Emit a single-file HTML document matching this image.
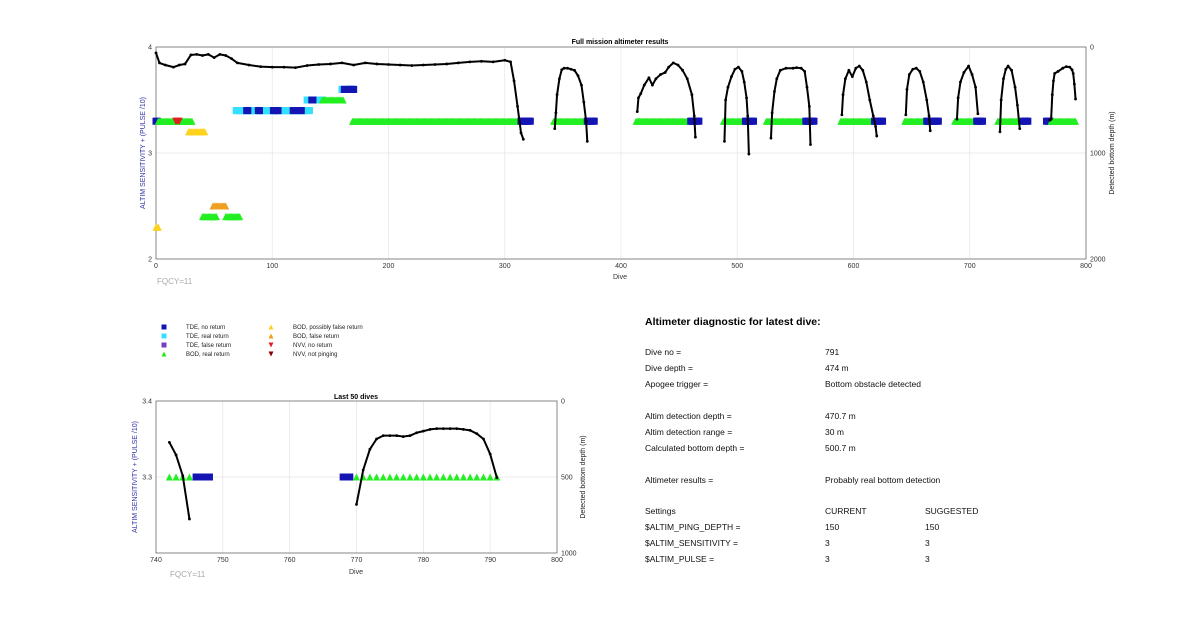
<!DOCTYPE html>
<html><head><meta charset="utf-8"><style>
body{margin:0;background:#fff;}
svg{display:block;font-family:"Liberation Sans",Arial,sans-serif;}
.tk{font-size:7px;fill:#333;}
.row{font-size:8.5px;fill:#111;}
.lg{font-size:6px;fill:#222;}
</style></head><body>
<svg id="s" width="1200" height="622" viewBox="0 0 1200 622" xmlns="http://www.w3.org/2000/svg">
<rect width="1200" height="622" fill="#fff"/>
<g id="top">
<text x="620" y="44" text-anchor="middle" font-size="7" font-weight="bold">Full mission altimeter results</text>
<text transform="translate(145,153) rotate(-90)" text-anchor="middle" font-size="7" fill="#3333aa">ALTIM SENSITIVITY + (PULSE /10)</text>
<text transform="translate(1114,153) rotate(-90)" text-anchor="middle" font-size="7" fill="#222">Detected bottom depth (m)</text>
<text x="620" y="279" text-anchor="middle" font-size="7" fill="#333">Dive</text>
<text x="157" y="284" font-size="8" fill="#aaa">FQCY=11</text>
</g>
<g id="bot">
<text x="356" y="399" text-anchor="middle" font-size="7" font-weight="bold">Last 50 dives</text>
<text transform="translate(137,477) rotate(-90)" text-anchor="middle" font-size="7" fill="#3333aa">ALTIM SENSITIVITY + (PULSE /10)</text>
<text transform="translate(585,477) rotate(-90)" text-anchor="middle" font-size="7" fill="#222">Detected bottom depth (m)</text>
<text x="356" y="574" text-anchor="middle" font-size="7" fill="#333">Dive</text>
<text x="170" y="577" font-size="8" fill="#aaa">FQCY=11</text>
</g>
<g id="legend"></g>
<g>
<text x="645" y="325" font-size="10.5" font-weight="bold">Altimeter diagnostic for latest dive:</text>
<g class="row">
<text x="645" y="355">Dive no =</text><text x="825" y="355">791</text>
<text x="645" y="371">Dive depth =</text><text x="825" y="371">474 m</text>
<text x="645" y="387">Apogee trigger =</text><text x="825" y="387">Bottom obstacle detected</text>
<text x="645" y="419">Altim detection depth =</text><text x="825" y="419">470.7 m</text>
<text x="645" y="435">Altim detection range =</text><text x="825" y="435">30 m</text>
<text x="645" y="451">Calculated bottom depth =</text><text x="825" y="451">500.7 m</text>
<text x="645" y="483">Altimeter results =</text><text x="825" y="483">Probably real bottom detection</text>
<text x="645" y="514">Settings</text><text x="825" y="514">CURRENT</text><text x="925" y="514">SUGGESTED</text>
<text x="645" y="530">$ALTIM_PING_DEPTH =</text><text x="825" y="530">150</text><text x="925" y="530">150</text>
<text x="645" y="546">$ALTIM_SENSITIVITY =</text><text x="825" y="546">3</text><text x="925" y="546">3</text>
<text x="645" y="562">$ALTIM_PULSE =</text><text x="825" y="562">3</text><text x="925" y="562">3</text>
</g></g>
</svg>
<script>
const NS="http://www.w3.org/2000/svg";
const COLORS={tdeNo:"#1414b4",tdeReal:"#33e0ff",tdeFalse:"#7a3fc0",bodReal:"#22ee22",bodPoss:"#ffd21f",bodFalse:"#f0a020",nvvNo:"#e02020",nvvNot:"#8b0000"};
const SHAPE={tdeNo:"sq",tdeReal:"sq",tdeFalse:"sq",bodReal:"tri",bodPoss:"tri",bodFalse:"tri",nvvNo:"inv",nvvNot:"inv"};
// top chart data
const topXTicks=[0,100,200,300,400,500,600,700,800];
const topYTicks=[2,3,4];
const topRTicks=[0,1000,2000];
const segStart=[0,2,17,28,69,78,88,101,104,118,124,130,134,143,160,162,167,169,314,49,40,60,0,342,371,413,460,488,507,525,559,589,618,644,663,687,706,724,746,766,770];
const segEnd=[1,31,20,42,132,79,89,102,105,119,125,143,135,161,170,163,170,313,322,60,52,72,2,370,377,459,467,506,514,558,566,617,625,662,673,705,711,745,750,769,791];
const segLevel=[3.3,3.3,3.3,3.2,3.4,3.4,3.4,3.4,3.4,3.4,3.4,3.5,3.5,3.5,3.6,3.6,3.6,3.3,3.3,2.5,2.4,2.4,2.3,3.3,3.3,3.3,3.3,3.3,3.3,3.3,3.3,3.3,3.3,3.3,3.3,3.3,3.3,3.3,3.3,3.3,3.3];
const segType=["tdeNo","bodReal","nvvNo","bodPoss","tdeReal","tdeNo","tdeNo","tdeNo","tdeNo","tdeNo","tdeNo","tdeReal","tdeNo","bodReal","tdeReal","tdeNo","tdeNo","bodReal","tdeNo","bodFalse","bodReal","bodReal","bodPoss","bodReal","tdeNo","bodReal","tdeNo","bodReal","tdeNo","bodReal","tdeNo","bodReal","tdeNo","bodReal","tdeNo","bodReal","tdeNo","bodReal","tdeNo","tdeNo","bodReal"];
const topDiveGroups=[
[0,3,8,15,20,25,30,35,40,45,50,55,60,65,70,80,90,100,110,120,130,140,150,160,170,180,190,200,210,220,230,240,250,260,270,280,290,300,305,308,311,314,316],
[343,344,345,347,349,351,354,357,360,363,366,368,370,371],
[414,415,417,420,424,427,430,434,438,441,445,449,453,457,461,463,464],
[489,490,492,495,498,501,504,506,508,509,510],
[529,530,532,534,537,542,548,551,555,558,560,562,563],
[590,591,593,596,599,602,605,608,611,614,617,619,620],
[645,646,648,651,654,657,660,663,665,666],
[689,690,692,695,699,702,705,707],
[726,727,729,731,733,736,739,741,743],
[769,770,771,772,773,776,780,783,786,788,789,790,791]];
const topDepthGroups=[
[56,150,170,190,170,160,75,70,80,70,100,70,80,110,150,170,185,190,190,195,175,165,160,150,170,150,160,165,170,175,170,165,160,150,140,135,140,125,140,320,560,810,870],
[770,620,450,300,215,200,200,210,220,270,360,520,700,890],
[610,480,440,360,290,360,300,260,240,190,150,170,220,300,450,650,850],
[890,500,380,280,210,190,230,330,480,650,1010],
[860,620,420,300,220,200,200,195,200,230,380,560,920],
[640,450,300,220,280,200,180,220,330,500,650,750,840],
[640,400,260,210,200,230,330,500,650,790],
[680,480,330,240,180,260,380,630],
[800,500,300,210,180,220,380,550,770],
[690,680,450,320,250,230,200,185,190,215,250,350,490]];
// bottom chart data
const botXTicks=[740,750,760,770,780,790,800];
const botYTicks=[3.3,3.4];
const botRTicks=[0,500,1000];
const botMarkDive=[742,743,744,745,746,747,748,768,769,770,771,772,773,774,775,776,777,778,779,780,781,782,783,784,785,786,787,788,789,790,791];
const botMarkType=["bodReal","bodReal","bodReal","bodReal","tdeNo","tdeNo","tdeNo","tdeNo","tdeNo","bodReal","bodReal","bodReal","bodReal","bodReal","bodReal","bodReal","bodReal","bodReal","bodReal","bodReal","bodReal","bodReal","bodReal","bodReal","bodReal","bodReal","bodReal","bodReal","bodReal","bodReal","bodReal"];
const botMarkLevel=[3.3,3.3,3.3,3.3,3.3,3.3,3.3,3.3,3.3,3.3,3.3,3.3,3.3,3.3,3.3,3.3,3.3,3.3,3.3,3.3,3.3,3.3,3.3,3.3,3.3,3.3,3.3,3.3,3.3,3.3,3.3];
const botDiveGroups=[[742,743,744,745],[770,771,772,773,774,775,776,777,778,779,780,781,782,783,784,785,786,787,788,789,790,791]];
const botDepthGroups=[[272,355,491,776],[680,454,318,250,228,228,228,234,228,209,198,187,182,182,182,182,187,193,215,250,349,505]];
const legendKeys=["tdeNo","tdeReal","tdeFalse","bodReal","bodPoss","bodFalse","nvvNo","nvvNot"];
const legendLabels=["TDE, no return","TDE, real return","TDE, false return","BOD, real return","BOD, possibly false return","BOD, false return","NVV, no return","NVV, not pinging"];

function mk(tag,attrs,parent){const e=document.createElementNS(NS,tag);for(const k in attrs)e.setAttribute(k,attrs[k]);parent.appendChild(e);return e;}
function marker(parent,type,cx,cy,s){
  const c=COLORS[type],sh=SHAPE[type];let e;
  if(sh==="sq")e=mk("rect",{x:cx-s/2,y:cy-s/2,width:s,height:s,fill:c},parent);
  else if(sh==="tri")e=mk("polygon",{points:`${cx-s/2},${cy+s/2} ${cx+s/2},${cy+s/2} ${cx},${cy-s/2}`,fill:c},parent);
  else e=mk("polygon",{points:`${cx-s/2},${cy-s/2} ${cx+s/2},${cy-s/2} ${cx},${cy+s/2}`,fill:c},parent);
  return e;
}
function axes(g,o){
  const {x0,x1,y0,y1}=o;
  o.xTicks.forEach(t=>{const x=o.sx(t);
    if(t!==o.xTicks[0]&&t!==o.xTicks[o.xTicks.length-1]){const l=mk("line",{x1:x,x2:x,y1:y0,y2:y1,stroke:"#e4e4e4","stroke-width":0.7},g);
    
    }
    const tx=mk("text",{x:x,y:y1+9,"text-anchor":"middle",class:"tk"},g);tx.textContent=t;
    
    });
  o.yTicks.forEach(t=>{const y=o.sy(t);
    if(y>y0+1&&y<y1-1){const l=mk("line",{x1:x0,x2:x1,y1:y,y2:y,stroke:"#e4e4e4","stroke-width":0.7},g);
    
    }
    const tx=mk("text",{x:x0-4,y:y+2.5,"text-anchor":"end",class:"tk"},g);tx.textContent=t;
    
    });
  o.rTicks.forEach(t=>{const y=o.sd(t);
    const tx=mk("text",{x:x1+4,y:y+2.5,class:"tk"},g);tx.textContent=t;
    
    });
  const r=mk("rect",{x:x0,y:y0,width:x1-x0,height:y1-y0,fill:"none",stroke:"#555","stroke-width":0.7},g);
  
  
}
function lines(g,o,dg,pg,dot){
  dg.forEach((ds,i)=>{const pts=ds.map((d,j)=>o.sx(d)+","+o.sd(pg[i][j])).join(" ");
    const pl=mk("polyline",{points:pts,fill:"none",stroke:"#000","stroke-width":2,"stroke-linejoin":"round"},g);
    
    
    ds.forEach((d,j)=>{const c=mk("circle",{cx:o.sx(d),cy:o.sd(pg[i][j]),r:dot,fill:"#000"},g);
      
      });});
}
// top chart
const T={x0:156,x1:1086,y0:47,y1:259,xTicks:topXTicks,yTicks:topYTicks,rTicks:topRTicks};
T.sx=v=>T.x0+(v-0)/(800-0)*(T.x1-T.x0);
T.sy=v=>T.y1-(v-2)/(4-2)*(T.y1-T.y0);
T.sd=v=>T.y0+(v-0)/(2000-0)*(T.y1-T.y0);
const gt=document.getElementById("top");
axes(gt,T);
segStart.forEach((s,i)=>{for(let d=s;d<=segEnd[i];d++){const m=marker(gt,segType[i],T.sx(d),T.sy(segLevel[i]),7);
  
  }});
lines(gt,T,topDiveGroups,topDepthGroups,1.4);
// bottom chart
const B={x0:156,x1:557,y0:401,y1:553,xTicks:botXTicks,yTicks:botYTicks,rTicks:botRTicks};
B.sx=v=>B.x0+(v-740)/(800-740)*(B.x1-B.x0);
B.sy=v=>B.y1-(v-3.2)/(3.4-3.2)*(B.y1-B.y0);
B.sd=v=>B.y0+(v-0)/(1000-0)*(B.y1-B.y0);
const gb=document.getElementById("bot");
axes(gb,B);
botMarkDive.forEach((d,i)=>{const m=marker(gb,botMarkType[i],B.sx(d),B.sy(botMarkLevel[i]),7);
  
  });
lines(gb,B,botDiveGroups,botDepthGroups,1.4);
// legend
const gl=document.getElementById("legend");
legendKeys.forEach((k,i)=>{const col=Math.floor(i/4),row=i%4;const x=164+col*107,y=327+row*9;
  const m=marker(gl,k,x,y,5);
  
  
  const t=mk("text",{x:x+22,y:y+2,class:"lg"},gl);t.textContent=legendLabels[i];
  
  });
</script>
</body></html>
